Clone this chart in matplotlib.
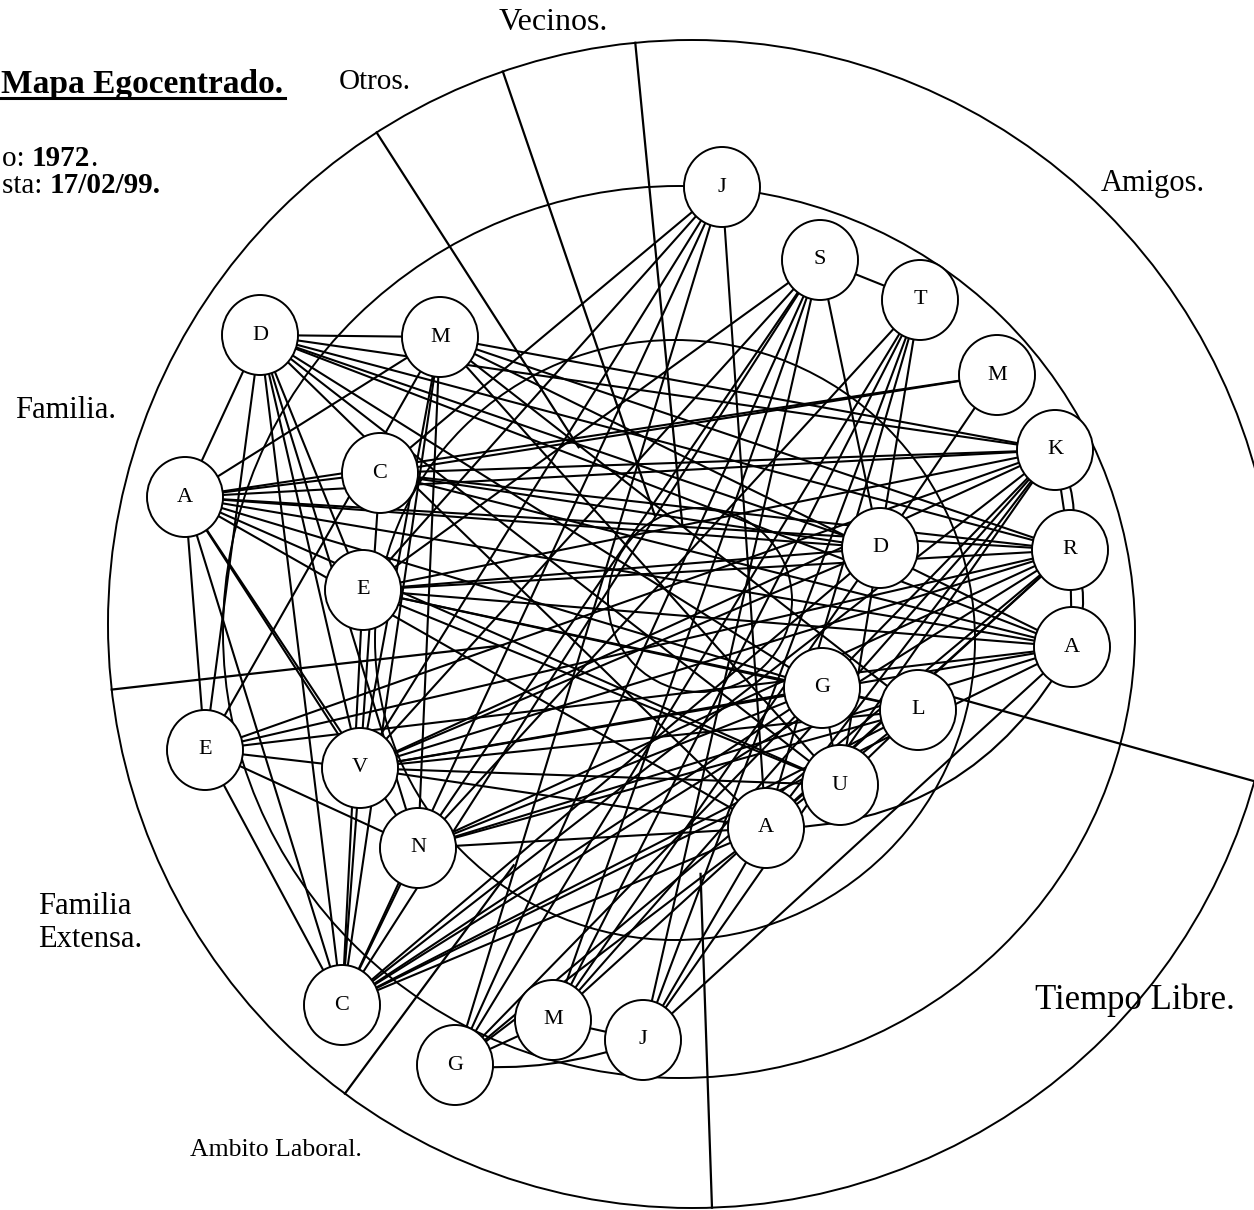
import numpy as np
import matplotlib.pyplot as plt
from matplotlib.patches import Circle, Ellipse, FancyArrowPatch

plt.rcParams['font.family'] = ['Liberation Serif', 'DejaVu Serif']

# node labels and positions (pixel coords of the hand drawn map)
names = ['fD', 'fM', 'fA', 'fC', 'fE', 'xE', 'xV', 'xN', 'xC', 'lG', 'lM', 'lJ',
         'J', 'S', 'T', 'M', 'K', 'R', 'A', 'D', 'G', 'L', 'U', 'A2']
labels = ['D', 'M', 'A', 'C', 'E', 'E', 'V', 'N', 'C', 'G', 'M', 'J',
          'J', 'S', 'T', 'M', 'K', 'R', 'A', 'D', 'G', 'L', 'U', 'A']
node_x = [260, 440, 185, 380, 363, 205, 360, 418, 342, 455, 553, 643,
          722, 820, 920, 997, 1055, 1070, 1072, 880, 822, 918, 840, 766]
node_y = [335, 337, 497, 473, 590, 750, 768, 848, 1005, 1065, 1020, 1040,
          187, 260, 300, 375, 450, 550, 647, 548, 688, 710, 785, 828]

edges = """fD-fM fD-fA fA-fM fA-fC fA-xE fD-xE fD-xV fD-xC fD-xN fD-fE fM-xE fM-xV
fM-xN fM-xC fC-xV fE-xC xE-xV xE-xN xE-xC xV-xC xN-xC fA-xV fA-xN fA-xC
fD-K fD-R fD-A fD-G fD-U fD-A2 fD-D fM-K fM-R fM-A fM-U fM-L
fA-K fA-R fA-A fA-D fA-G fA-U fA-A2 fC-K fC-R fC-M fC-D fC-A
fE-K fE-R fE-A fE-D fE-G fE-U fE-L xE-A xE-R xE-K
xV-K xV-R xV-A xV-D xV-G xV-L xV-U xV-A2 xV-J xV-S
xN-A xN-R xN-G xN-L xN-A2 xN-T xC-K xC-R xC-A xC-G xC-L xC-D xC-A2 xC-J xC-S
lG-S lG-J lG-T lG-K lG-R lG-A2 lM-S lM-T lM-K lM-R lM-D
lJ-S lJ-T lJ-K lJ-A lJ-A2 lG-lM lM-lJ
S-T S-D K-R R-A L-A2 L-U G-U G-L M-D K-A2 R-A2 T-A2 T-U
J-fE J-fC S-fE S-xN J-A2 M-fA""".split()

curved = [('lG', 'lJ', 0.12), ('A', 'A2', -0.3), ('R', 'A', -0.25), ('K', 'R', -0.2)]

# rings: outer, middle, inner, ego (centre x, centre y, half width, half height)
ring_cx = [692, 679, 675, 700]
ring_cy = [624, 632, 640, 600]
ring_w = [584, 456, 300, 92]
ring_h = [584, 446, 300, 92]

# sector dividers: outer end point and inner radius
div_x = [108, 355, 712, 1250, 635, 503, 375]
div_y = [690, 1080, 1208, 780, 40, 72, 130]
div_rin = [190, 300, 250, 270, 100, 115, 210]

sectors = ['Vecinos.', 'Otros.', 'Amigos.', 'Familia.', 'Familia\nExtensa.',
           'Ambito Laboral.', 'Tiempo Libre.']
sec_x = [553, 375, 1153, 15, 38, 190, 1035]
sec_y = [22, 82, 183, 410, 923, 1150, 1000]
sec_size = [23, 21, 22, 22, 22, 18.5, 25]
sec_ha = ['center', 'center', 'center', 'left', 'left', 'left', 'left']

pos = {n: (x, y) for n, x, y in zip(names, node_x, node_y)}

fig = plt.figure(figsize=(12.54, 12.10), dpi=100)
ax = fig.add_axes([0, 0, 1, 1])
ax.set_xlim(0, 1254)
ax.set_ylim(1210, 0)
ax.axis('off')

for cx, cy, w, h in zip(ring_cx, ring_cy, ring_w, ring_h):
    ax.add_patch(Ellipse((cx, cy), 2 * w, 2 * h, fill=False, ec='black', lw=1.4,
                         zorder=1))

cx0, cy0, r0 = ring_cx[0], ring_cy[0], ring_w[0]
for x, y, rin in zip(div_x, div_y, div_rin):
    d = np.hypot(x - cx0, y - cy0)
    ux, uy = (x - cx0) / d, (y - cy0) / d
    ax.plot([cx0 + ux * rin, cx0 + ux * r0], [cy0 + uy * rin, cy0 + uy * r0],
            color='black', lw=1.6, zorder=1)

for e in edges:
    a, b = e.split('-')
    ax.plot([pos[a][0], pos[b][0]], [pos[a][1], pos[b][1]],
            color='black', lw=1.5, zorder=2)

for a, b, rad in curved:
    ax.add_patch(FancyArrowPatch(pos[a], pos[b], connectionstyle=f'arc3,rad={rad}',
                                 arrowstyle='-', color='black', lw=1.5, zorder=2))

for n, lab in zip(names, labels):
    ax.add_patch(Ellipse(pos[n], 76, 80, fc='white', ec='black', lw=1.4, zorder=3))
    ax.text(pos[n][0], pos[n][1], lab, ha='center', va='center', fontsize=16, zorder=4)

for s, x, y, fs, ha in zip(sectors, sec_x, sec_y, sec_size, sec_ha):
    ax.text(x, y, s, ha=ha, va='center', fontsize=fs, linespacing=1.15)

# title and interview data (left part is cut in the scan)
ax.text(1, 93, 'Mapa Egocentrado.', ha='left', va='baseline', fontsize=24,
        fontweight='bold')
ax.plot([1, 285], [98, 98], color='black', lw=2.2)
t = ax.text(2, 166, 'o: ', ha='left', va='baseline', fontsize=21)
t = ax.annotate('1972', xycoords=t, xy=(1, 0), va='bottom', fontsize=21,
                fontweight='bold')
ax.annotate('.', xycoords=t, xy=(1, 0), va='bottom', fontsize=21)
t2 = ax.text(2, 193, 'sta: ', ha='left', va='baseline', fontsize=21)
ax.annotate('17/02/99.', xycoords=t2, xy=(1, 0), va='bottom', fontsize=21,
            fontweight='bold')

plt.savefig('out.png', dpi=100)
